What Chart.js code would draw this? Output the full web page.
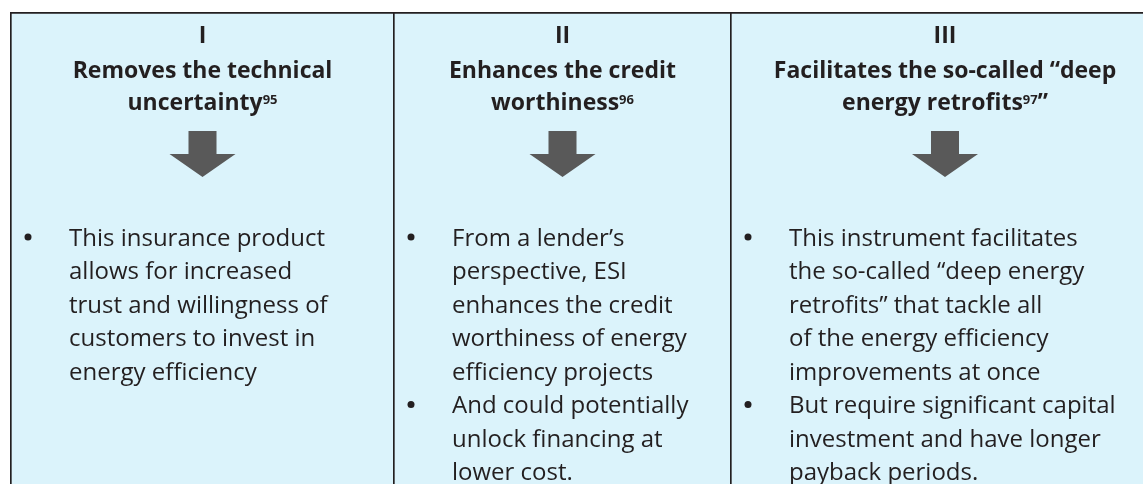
<!DOCTYPE html>
<html>
<head>
<meta charset="utf-8">
<script src="https://cdn.jsdelivr.net/npm/chart.js@4.4.1/dist/chart.umd.min.js"></script>
<style>
  html, body { margin: 0; padding: 0; background: #ffffff; overflow: hidden; }
  #wrap { width: 1158px; height: 484px; }
</style>
</head>
<body>
<div id="wrap"><canvas id="panels" width="1158" height="484"></canvas></div>
<script>
// ---------------- Data ------------------------------------------------------
const numerals     = [ 'I', 'II', 'III' ] ;
const columnWidths = [ 383, 337, 428 ] ;           // relative column widths
const headings     = [
    [ 'Removes the technical', 'uncertainty{95}' ],
    [ 'Enhances the credit', 'worthiness{96}' ],
    [ 'Facilitates the so-called \u201Cdeep', 'energy retrofits{97}\u201D' ]
] ;
const bullets1 = [
    [ 'This insurance product', 'allows for increased', 'trust and willingness of',
      'customers to invest in', 'energy efficiency' ]
] ;
const bullets2 = [
    [ 'From a lender\u2019s', 'perspective, ESI', 'enhances the credit',
      'worthiness of energy', 'efficiency projects' ],
    [ 'And could potentially', 'unlock financing at', 'lower cost.' ]
] ;
const bullets3 = [
    [ 'This instrument facilitates', 'the so-called \u201Cdeep energy',
      'retrofits\u201D that tackle all', 'of the energy efficiency',
      'improvements at once' ],
    [ 'But require significant capital', 'investment and have longer',
      'payback periods.' ]
] ;
const bodies = [ bullets1, bullets2, bullets3 ] ;

// ---------------- Styles ----------------------------------------------------
const PANEL_COLOR  = '#DBF3FB' ;
const BORDER_COLOR = '#231F20' ;
const TEXT_COLOR   = '#231F20' ;
const ARROW_COLOR  = '#595959' ;
const FONT_FAMILY  = '"Open Sans", Lato, sans-serif' ;
const HEAD_SIZE    = 23 ;
const BODY_SIZE    = 24 ;

// draws a line that may contain a {superscript} part, centred on cx
function drawHeadingLine( ctx, text, cx, y ) {
    const parts = [] ;
    const re = /\{([^}]*)\}/g ;
    let last = 0, m ;
    while( ( m = re.exec( text ) ) !== null ) {
        if( m.index > last ) parts.push( { t: text.substring( last, m.index ), sup: false } ) ;
        parts.push( { t: m[1], sup: true } ) ;
        last = m.index + m[0].length ;
    }
    if( last < text.length ) parts.push( { t: text.substring( last ), sup: false } ) ;

    const mainFont = 'bold ' + HEAD_SIZE + 'px ' + FONT_FAMILY ;
    const supFont  = 'bold 13px ' + FONT_FAMILY ;
    let total = 0 ;
    parts.forEach( p => {
        ctx.font = p.sup ? supFont : mainFont ;
        p.w = ctx.measureText( p.t ).width ;
        total += p.w ;
    } ) ;
    let x = cx - total / 2 ;
    ctx.textAlign = 'left' ;
    ctx.textBaseline = 'alphabetic' ;
    parts.forEach( p => {
        ctx.font = p.sup ? supFont : mainFont ;
        ctx.fillText( p.t, x, p.sup ? y - 6 : y ) ;
        x += p.w ;
    } ) ;
}

function drawArrow( ctx, cx, top ) {
    ctx.fillStyle = ARROW_COLOR ;
    ctx.beginPath() ;
    ctx.moveTo( cx - 14, top + 119 ) ;
    ctx.lineTo( cx + 14, top + 119 ) ;
    ctx.lineTo( cx + 14, top + 142 ) ;
    ctx.lineTo( cx + 33, top + 142 ) ;
    ctx.lineTo( cx, top + 165 ) ;
    ctx.lineTo( cx - 33, top + 142 ) ;
    ctx.lineTo( cx - 14, top + 142 ) ;
    ctx.closePath() ;
    ctx.fill() ;
}

const panelTextPlugin = {
    id: 'panelText',
    afterDatasetsDraw( chart ) {
        const ctx = chart.ctx ;
        const top = chart.chartArea.top ;
        ctx.save() ;
        for( let i = 0; i < numerals.length; i++ ) {
            const bar   = chart.getDatasetMeta( i ).data[0] ;
            const left  = Math.min( bar.base, bar.x ) ;
            const right = Math.max( bar.base, bar.x ) ;
            const cx    = ( left + right ) / 2 + 1 ;

            ctx.fillStyle = TEXT_COLOR ;
            ctx.font = 'bold ' + HEAD_SIZE + 'px ' + FONT_FAMILY ;
            ctx.textAlign = 'center' ;
            ctx.textBaseline = 'alphabetic' ;
            ctx.fillText( numerals[i], cx, top + 31 ) ;
            headings[i].forEach( ( line, k ) => {
                drawHeadingLine( ctx, line, cx, top + 66 + k * 32 ) ;
            } ) ;

            drawArrow( ctx, cx, top ) ;

            // bullet body
            ctx.fillStyle = TEXT_COLOR ;
            ctx.font = BODY_SIZE + 'px ' + FONT_FAMILY ;
            ctx.textAlign = 'left' ;
            let row = 0 ;
            bodies[i].forEach( item => {
                const yMid = top + 225 + row * 33.5 ;
                ctx.beginPath() ;
                ctx.arc( left + 18, yMid, 3.5, 0, Math.PI * 2 ) ;
                ctx.fill() ;
                item.forEach( line => {
                    ctx.fillText( line, left + 59, top + 225 + row * 33.5 + 8.5 ) ;
                    row++ ;
                } ) ;
            } ) ;
        }
        ctx.restore() ;
    }
} ;

const total = columnWidths.reduce( ( a, b ) => a + b, 0 ) ;

const datasets = columnWidths.map( ( w, i ) => ( {
    label           : numerals[i],
    data            : [ w ],
    backgroundColor : PANEL_COLOR,
    borderColor     : BORDER_COLOR,
    borderWidth     : { top: 2, left: 2, right: 0, bottom: 0 },
    borderSkipped   : false,
    barPercentage   : 1,
    categoryPercentage : 1,
} ) ) ;

new Chart( document.getElementById( 'panels' ), {
    type: 'bar',
    data: { labels: [ 'panels' ], datasets: datasets },
    options: {
        indexAxis  : 'y',
        responsive : false,
        animation  : false,
        devicePixelRatio : 1,
        layout : { padding: { top: 12, left: 10, right: 0, bottom: 0 } },
        plugins: { legend: { display: false }, tooltip: { enabled: false } },
        scales : {
            x: { stacked: true, display: false, min: 0, max: total },
            y: { stacked: true, display: false }
        }
    },
    plugins: [ panelTextPlugin ]
} ) ;
</script>
</body>
</html>
